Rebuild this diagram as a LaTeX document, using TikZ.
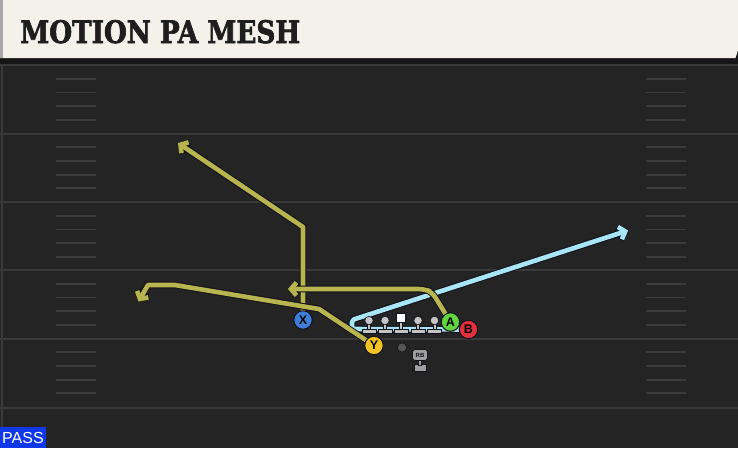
\documentclass[tikz,border=0pt]{standalone}
\usepackage{fontspec}
\setmainfont{Liberation Sans}
\newfontfamily\titlefont{DejaVu Serif}[BoldFeatures={FakeBold=2.2}]
\usetikzlibrary{arrows.meta}
\definecolor{field}{HTML}{242424}
\definecolor{shadowband}{HTML}{161616}
\definecolor{cream}{HTML}{F4F1EA}
\definecolor{hdrborder}{HTML}{A8A8A8}
\definecolor{yardc}{HTML}{3A3A3A}
\definecolor{hashc}{HTML}{3B3B3B}
\definecolor{olive}{HTML}{B8B44E}
\definecolor{cyanr}{HTML}{A8E6F5}
\definecolor{outl}{HTML}{12121C}
\definecolor{lgray}{HTML}{C4C4C4}
\definecolor{qbgray}{HTML}{555555}
\definecolor{rbgray}{HTML}{A0A0A0}
\definecolor{xblue}{HTML}{3D7FD8}
\definecolor{yyellow}{HTML}{F2C224}
\definecolor{agreen}{HTML}{62D43E}
\definecolor{bred}{HTML}{E3313C}
\definecolor{passblue}{HTML}{1038E8}
\definecolor{titlec}{HTML}{1E1E1E}
\tikzset{
  yard/.style={draw=yardc, line width=2pt},
  hashmark/.style={draw=hashc, line width=1.8pt},
  route/.style={line width=4.6pt, line join=round,
    -{Straight Barb[length=5.5pt,width=13pt]},
    preaction={draw=outl, line width=6.6pt}},
  oliveroute/.style={route, draw=olive},
  cyanroute/.style={route, draw=cyanr},
  player/.style={circle, draw=outl, line width=1pt, minimum size=18.5pt, inner sep=0pt,
    font=\bfseries\fontsize{12.5}{12.5}\selectfont, text=black},
  lman/.pic={
    \filldraw[fill=lgray, draw=outl, line width=0.6pt] (-7,9) rectangle (7,13);
    \filldraw[fill=lgray, draw=outl, line width=0.6pt] (-1.6,3) rectangle (1.6,9);
    \filldraw[fill=lgray, draw=outl, line width=0.6pt] (0,0) circle (4.2);
  },
  cman/.pic={
    \filldraw[fill=lgray, draw=outl, line width=0.6pt] (-7,11) rectangle (7,15);
    \filldraw[fill=lgray, draw=outl, line width=0.6pt] (-1.6,4) rectangle (1.6,11);
    \filldraw[fill=white, draw=outl, line width=0.6pt] (-4.6,-4.6) rectangle (4.6,4.6);
  },
}
\begin{document}
\begin{tikzpicture}[x=1pt,y=-1pt]
\useasboundingbox (0,0) rectangle (738,448);
\fill[field] (0,0) rectangle (738,448);
% header
\fill[shadowband] (0,56) rectangle (738,63.5);
\fill[cream] (0,0) -- (738,0) -- (738,50) -- (735.5,58) -- (0,58) -- cycle;
\fill[hdrborder] (0,0) rectangle (3,58);
\node[anchor=base west, inner sep=0pt, text=titlec] (title) at (20,43)
  {\resizebox{280pt}{23pt}{\titlefont\bfseries MOTION PA MESH}};
% field lines
\draw[draw=yardc, line width=1.5pt] (2,63.5) -- (2,448);
\foreach \yy in {65,133.5,202,270,338.5,408} \draw[yard] (0,\yy) -- (738,\yy);
\foreach \yy in {65,133.5,202,270,338.5} {
  \foreach \k in {1,...,4} {
    \pgfmathsetmacro\hy{\yy+\k*13.7}
    \draw[hashmark] (56,\hy) -- (96,\hy);
    \draw[hashmark] (646,\hy) -- (686,\hy);
  }
}
% pass label
\node[fill=passblue, text=white, inner sep=0pt, minimum width=45.5pt, minimum height=20.5pt,
  anchor=south west, font=\fontsize{16}{16}\selectfont] (pass) at (0,448) {PASS};
% player positions
\coordinate (pX) at (303,320);
\coordinate (pY) at (374,345.5);
\coordinate (pA) at (450.5,322);
\coordinate (pB) at (468.5,329.5);
% route waypoints
\coordinate (x1) at (303,227);
\coordinate (x2) at (178,143);
\coordinate (y1) at (319,309);
\coordinate (y2) at (175,285);
\coordinate (y3) at (148,285);
\coordinate (y4) at (138.5,301.5);
\coordinate (a1) at (432,292);
\coordinate (a2) at (288,289);
\coordinate (b1) at (352,329);
\coordinate (b2) at (352,320);
\coordinate (b3) at (628,230.5);
% routes
\draw[cyanroute, rounded corners=2pt] (pB) -- (b1) -- (b2) -- (b3);
\draw[oliveroute] (pX) -- (x1) -- (x2);
\draw[oliveroute] (pY) -- (y1) -- (y2) -- (y3) -- (y4);
\draw[oliveroute, rounded corners=6pt] (pA) -- (a1) -- (424,289) -- (a2);
% line
\foreach \lx in {369,385,418,434.5} \pic at (\lx,320.5) {lman};
\pic at (401,318) {cman};
% QB
\filldraw[fill=qbgray, draw=outl, line width=0.6pt] (402,347.5) circle (4.6);
% RB
\filldraw[fill=rbgray, draw=outl, line width=0.6pt] (414,364) rectangle (426,371);
\filldraw[fill=rbgray, draw=outl, line width=0.6pt] (418.5,359) rectangle (421.5,365);
\node[fill=rbgray, draw=outl, line width=0.6pt, rounded corners=3pt, minimum width=15pt,
  minimum height=11pt, inner sep=0pt, text=outl, font=\bfseries\fontsize{6}{6}\selectfont]
  (rb) at (420,355) {RB};
% skill players
\node[player, fill=xblue] (X) at (pX) {X};
\node[player, fill=yyellow] (Y) at (pY) {Y};
\node[player, fill=agreen] (A) at (pA) {A};
\node[player, fill=bred] (B) at (pB) {B};
\end{tikzpicture}
\end{document}
